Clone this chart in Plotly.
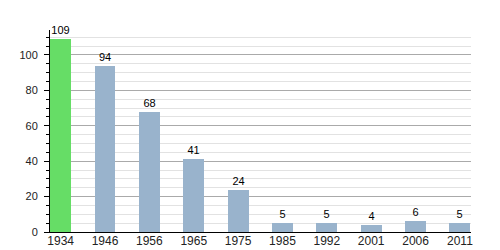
import plotly.graph_objects as go

years = ["1934", "1946", "1956", "1965", "1975", "1985", "1992", "2001", "2006", "2011"]
values = [109, 94, 68, 41, 24, 5, 5, 4, 6, 5]
colors = ["#66dd66"] + ["#99b3cc"] * 9

fig = go.Figure(go.Bar(
    x=years, y=values, marker=dict(color=colors, line=dict(width=0)),
    width=0.47, text=[str(v) for v in values], textposition="outside",
    textfont=dict(family="Liberation Sans, Arial", size=11, color="#000"),
    cliponaxis=False,
))
fig.update_layout(
    width=500, height=250, margin=dict(l=50, r=29, t=30, b=18, autoexpand=False),
    paper_bgcolor="white", plot_bgcolor="white", showlegend=False,
    font=dict(family="Liberation Sans, Arial", size=11, color="#000"),
    bargap=0,
)
fig.update_xaxes(type="category", range=[-0.24, 9.25], showline=True, linecolor="#000",
                 linewidth=1, ticks="", showgrid=False, tickfont=dict(size=12, color="#222"),
                 automargin=False, ticklabelstandoff=-2)
fig.update_yaxes(range=[0, 114.1], dtick=20, showline=True, linecolor="#000", linewidth=1,
                 ticks="outside", ticklen=5, tickcolor="#000", showgrid=True,
                 gridcolor="#aaaaaa", gridwidth=1, zeroline=False, automargin=False,
                 minor=dict(dtick=5, ticks="outside", ticklen=3, tickcolor="#000",
                            showgrid=True, gridcolor="#e2e2e2", gridwidth=1),
                 tickfont=dict(size=11, color="#222"), ticklabelstandoff=4)
fig.write_html("out.html")
